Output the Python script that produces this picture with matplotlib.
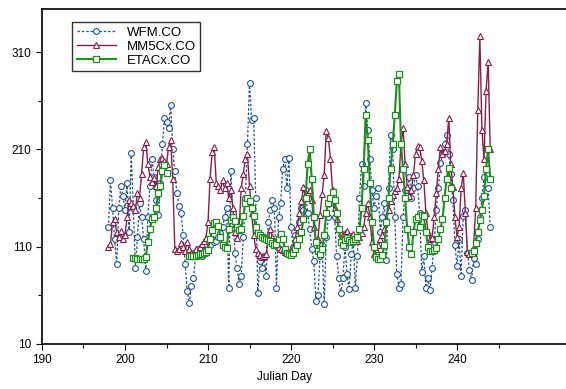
import numpy as np
import matplotlib.pyplot as plt
from matplotlib.ticker import FixedLocator

plt.rcParams['font.family'] = ['Liberation Sans', 'DejaVu Sans']

# samples every 6 hours (0.25 day), starting at the given Julian day
step = 0.25

wfm_start = 198.0
wfm_co = [
    130, 178, 150, 118,  92, 150, 172, 162,  148, 175, 125, 206,
    150, 88, 120, 155,   140, 118, 85, 140,  172, 200, 182, 158,
    143, 175, 215, 242,  238, 232, 256, 210,  188, 165, 152, 145,
    122, 92, 64, 52,     70, 78, 100, 108,   104, 100, 106, 104,
    108, 112, 118, 115,  116, 120, 124, 130,  140, 150, 68, 188,
    145, 104, 88, 72,    80, 120, 160, 215,  278, 240, 242, 160,
    62, 95, 88, 100,     80, 135, 148, 158,  150, 68, 140, 155,
    190, 200, 170, 201,  130, 110, 122, 115,  135, 150, 148, 168,
    145, 128, 108, 95,   54, 60, 100, 112,   51, 120, 140, 155,
    162, 140, 100, 78,   62, 78, 110, 82,    66, 102, 116, 68,
    100, 160, 195, 172,  258, 230, 200, 168,  150, 162, 170, 125,
    140, 155, 96, 170,   225, 210, 140, 82,  68, 72, 140, 168,
    168, 182, 160, 170,  184, 172, 145, 84,  100, 68, 78, 65,
    88, 115, 148, 170,   196, 205, 215, 225,  205, 185, 158, 112,
    90, 118, 80, 142,    148, 104, 86, 76,   98, 92, 118, 140,
    160, 182, 190, 170,  130,
]

mm5_start = 198.0
mm5_co = [
    110, 113, 135, 138,  125, 120, 126, 118,  122, 140, 158, 155,
    152, 148, 165, 160,  185, 212, 218, 195,  182, 176, 181, 172,
    192, 200, 201, 198,  195, 212, 220, 180,  108, 106, 108, 114,
    110, 106, 115, 108,  103, 103, 108, 105,  110, 113, 116, 119,
    135, 180, 207, 212,  175, 172, 168, 178,  170, 175, 160, 168,
    150, 125, 119, 130,  170, 185, 200, 205,  172, 145, 122, 108,
    103, 101, 99, 100,   102, 118, 128, 120,  116, 112, 110, 108,
    107, 105, 104, 105,  106, 110, 118, 130,  145, 157, 171, 160,
    165, 168, 158, 130,  116, 118, 143, 164,  184, 229, 222, 200,
    168, 150, 138, 128,  124, 123, 124, 126,  122, 121, 123, 118,
    116, 120, 124, 130,  145, 155, 140, 115,  102, 108, 112, 118,
    122, 128, 138, 148,  157, 163, 167, 170,  180, 215, 232, 195,
    171, 162, 168, 184,  205, 213, 212, 198,  178, 145, 125, 118,
    119, 140, 165, 190,  212, 205, 208, 215,  242, 195, 171, 140,
    120, 130, 170, 186,  145, 105, 102, 104,  110, 150, 250, 326,
    230, 200, 270, 300,  210,
]

nan = np.nan
eta_start = 201.0
eta_co = [
    98, 98, 97, 97,      97, 97, 99, 115,     128, 138, 140, 150,
    165, 172, 188, 194,  186, nan, nan, nan,  nan, nan, nan, nan,
    nan, nan, nan, 100,  100, 100, 100, 101,  102, 102, 103, 105,
    107, 118, 127, 134,  135, 131, 120, 112,  110, 109, 128, 137,
    140, 136, 130, 127,  128, 142, 155, 160,  157, 150, 142, 130,
    124, 122, 120, 119,  118, 117, 116, 114,  112, 113, 118, 123,
    118, 108, 104, 102,  101, 104, 108, 112,  118, 125, 138, 160,
    195, 210, 180, 140,  115, 106, 102, 108,  122, 145, 155, 160,
    166, 158, 145, 128,  115, 112, 117, 119,  117, 115, 116, 118,
    120, 128, 150, 190,  245, 220, 175, 135,  110, 99, 97, 97,
    101, 112, 135, 160,  190, 215, 245, 280,  287, 215, 190, 160,
    128, 110, 102, 125,  138, 140, 130, 143,  142, 125, 110, 106,
    106, 107, 109, 118,  128, 138, 160, 180,  191, 170, nan, nan,
    nan, nan, nan, nan,  nan, nan, nan, 103,  106, 114, 125, 137,
    148, 162, 190, 210,  180,
]

def days(start, values):
    return start + step * np.arange(len(values))

fig = plt.figure(figsize=(5.66, 3.89), dpi=100)
# the plot area runs to the right edge of the picture (no right spine)
ax = fig.add_axes([0.0742, 0.1157, 0.9258, 0.8612])

ax.plot(days(wfm_start, wfm_co), wfm_co, linestyle=(0, (2, 1.5)), lw=0.9,
        color='#1f5394', marker='o', ms=4.2, mfc='white', mew=0.8,
        label='WFM.CO')
ax.plot(days(mm5_start, mm5_co), mm5_co, linestyle='-', lw=1.0,
        color='#8a1d4e', marker='^', ms=4.2, mfc='white', mew=0.8,
        label='MM5Cx.CO')
ax.plot(days(eta_start, eta_co), eta_co, linestyle='-', lw=1.5,
        color='#1d8f1d', marker='s', ms=4.4, mfc='white', mew=0.9,
        label='ETACx.CO')

ax.set_xlim(190, 253.13)
ax.set_ylim(10, 354.2)
ax.set_xticks([190, 200, 210, 220, 230, 240])
ax.xaxis.set_minor_locator(FixedLocator([195, 205, 215, 225, 235, 245]))
ax.set_yticks([10, 110, 210, 310])
ax.yaxis.set_minor_locator(FixedLocator([60, 160, 260]))
ax.tick_params(which='both', direction='out', labelsize=8.5, width=0.8)
ax.tick_params(which='major', length=4)
ax.tick_params(which='minor', length=3)
for side in ['left', 'bottom', 'top']:
    ax.spines[side].set_linewidth(1.2)
ax.spines['right'].set_visible(False)

ax.set_xlabel('Julian Day', fontsize=8.5, labelpad=3, x=0.462)

leg = ax.legend(loc='upper left', bbox_to_anchor=(0.1272, 0.9434),
                bbox_transform=fig.transFigure,
                fontsize=9.5, frameon=True, fancybox=False, shadow=False,
                handlelength=3.0, labelspacing=0.12, borderpad=0.35,
                handletextpad=0.8, borderaxespad=0)
leg.get_frame().set_edgecolor('black')
leg.get_frame().set_linewidth(1.0)

fig.savefig('out.png', dpi=100)
